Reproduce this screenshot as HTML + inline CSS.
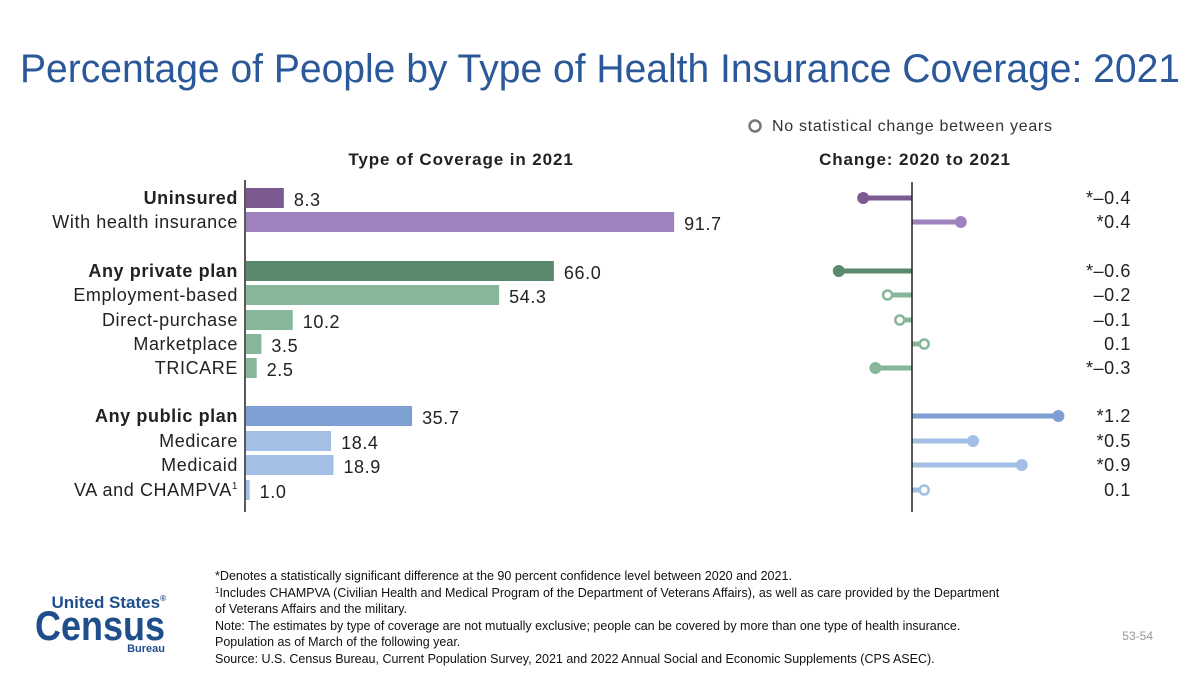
<!DOCTYPE html>
<html><head><meta charset="utf-8"><style>
body{margin:0;width:1200px;height:675px;background:#fff;overflow:hidden;font-family:"Liberation Sans",sans-serif;}
</style></head><body>
<svg width="1200" height="675" viewBox="0 0 1200 675" xmlns="http://www.w3.org/2000/svg">
<text x="20" y="82" font-size="40" fill="#2b5899" textLength="1160" lengthAdjust="spacingAndGlyphs">Percentage of People by Type of Health Insurance Coverage: 2021</text>
<g>
<circle cx="755" cy="126" r="5.5" fill="none" stroke="#777" stroke-width="2.5"/>
<text x="772" y="131" font-size="16" letter-spacing="0.7" fill="#333">No statistical change between years</text>
</g>
<text x="461" y="165" font-size="17" letter-spacing="0.9" font-weight="bold" fill="#222" text-anchor="middle">Type of Coverage in 2021</text>
<text x="915" y="165" font-size="17" letter-spacing="0.9" font-weight="bold" fill="#222" text-anchor="middle">Change: 2020 to 2021</text>
<g id="bars"></g>
<g id="lolli"></g>
<line x1="245" y1="180" x2="245" y2="512" stroke="#222" stroke-width="1.5"/>
<line x1="912" y1="182" x2="912" y2="512" stroke="#222" stroke-width="1.5"/>
<g>
<text x="166" y="608" font-size="17" font-weight="bold" fill="#1f4e8c" text-anchor="end">United States<tspan font-size="8" dy="-7">®</tspan></text>
<text x="35" y="640" font-size="42" font-weight="bold" fill="#1f4e8c" textLength="130" lengthAdjust="spacingAndGlyphs">Census</text>
<text x="165" y="652" font-size="11" font-weight="bold" fill="#1f4e8c" text-anchor="end">Bureau</text>
</g>
<g font-size="12.5" fill="#111">
<text x="215" y="580" textLength="577" lengthAdjust="spacingAndGlyphs">*Denotes a statistically significant difference at the 90 percent confidence level between 2020 and 2021.</text>
<text x="215" y="597"><tspan font-size="8" dy="-4">1</tspan><tspan dy="4">Includes CHAMPVA (Civilian Health and Medical Program of the Department of Veterans Affairs), as well as care provided by the Department</tspan></text>
<text x="215" y="613">of Veterans Affairs and the military.</text>
<text x="215" y="630">Note: The estimates by type of coverage are not mutually exclusive; people can be covered by more than one type of health insurance.</text>
<text x="215" y="646">Population as of March of the following year.</text>
<text x="215" y="663">Source: U.S. Census Bureau, Current Population Survey, 2021 and 2022 Annual Social and Economic Supplements (CPS ASEC).</text>
</g>
<text x="1153" y="640" font-size="12" fill="#999" text-anchor="end">53-54</text>
</svg>
<script>
const categories=["Uninsured","With health insurance","Any private plan","Employment-based","Direct-purchase","Marketplace","TRICARE","Any public plan","Medicare","Medicaid","VA and CHAMPVA"];
const boldRows=[true,false,true,false,false,false,false,true,false,false,false];
const shares=[8.3,91.7,66.0,54.3,10.2,3.5,2.5,35.7,18.4,18.9,1.0];
const changes=[-0.4,0.4,-0.6,-0.2,-0.1,0.1,-0.3,1.2,0.5,0.9,0.1];
const significant=[true,true,true,false,false,false,true,true,true,true,false];
const changeLabels=["*\u20130.4","*0.4","*\u20130.6","\u20130.2","\u20130.1","0.1","*\u20130.3","*1.2","*0.5","*0.9","0.1"];
const colors=["#7b5a91","#9e82bd","#5a8a6e","#86b79b","#86b79b","#86b79b","#86b79b","#7d9fd3","#a3bfe6","#a3bfe6","#a3bfe6"];
const rowY=[198,222,271,295,320,344,368,416,441,465,490];
const NS="http://www.w3.org/2000/svg";
const xBar=v=>245+v*4.68;
const xChg=v=>912+v*122;
const bars=document.getElementById('bars'),lolli=document.getElementById('lolli');
function mk(tag,attrs,parent){const e=document.createElementNS(NS,tag);for(const k in attrs)e.setAttribute(k,attrs[k]);parent.appendChild(e);return e;}
categories.forEach((c,i)=>{
 const y=rowY[i];
 const lab=mk('text',{x:238,y:y+6,'font-size':18,'letter-spacing':0.6,'text-anchor':'end',fill:'#222','font-weight':boldRows[i]?'bold':'normal'},bars);
 lab.textContent=c;
 if(i===10){const s=mk('tspan',{'font-size':10,dy:-7},lab);s.textContent='1';}
 
 
 const r=mk('rect',{x:246,y:y-10,width:xBar(shares[i])-246,height:20,fill:colors[i]},bars);
 
 
 const v=mk('text',{x:xBar(shares[i])+10,y:y+8,'font-size':18,'letter-spacing':0.6,fill:'#222'},bars);
 v.textContent=shares[i].toFixed(1);
 
 
 const xe=xChg(changes[i]);
 const l=mk('line',{x1:912,y1:y,x2:xe,y2:y,stroke:colors[i],'stroke-width':5},lolli);
 
 
 const d=significant[i]?mk('circle',{cx:xe,cy:y,r:6,fill:colors[i]},lolli):mk('circle',{cx:xe,cy:y,r:4.5,fill:'#fff',stroke:colors[i],'stroke-width':2.5},lolli);
 
 
 const t=mk('text',{x:1131,y:y+6,'font-size':18,'letter-spacing':0.6,'text-anchor':'end',fill:'#222'},lolli);
 t.textContent=changeLabels[i];
 
 
});
</script>
</body></html>
